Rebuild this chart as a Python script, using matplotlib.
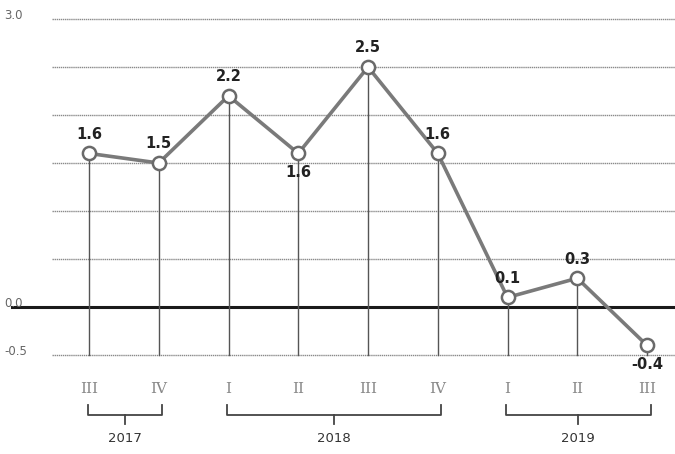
import numpy as np
import matplotlib
matplotlib.use("Agg")
import matplotlib.pyplot as plt

# quarterly values
quarters = ["III", "IV", "I", "II", "III", "IV", "I", "II", "III"]
values = [1.6, 1.5, 2.2, 1.6, 2.5, 1.6, 0.1, 0.3, -0.4]
label_pos = ["above", "above", "above", "below", "above", "above", "above", "above", "below"]
years = ["2017", "2018", "2019"]
year_span = [(0, 1), (2, 5), (6, 8)]
yticks = [3.0, 0.0, -0.5]
grid_levels = [3.0, 2.5, 2.0, 1.5, 1.0, 0.5, -0.5]

fig = plt.figure(figsize=(6.75, 4.54), dpi=100)
ax = fig.add_axes([0, 0, 1, 1])
ax.set_xlim(-1.276, 8.401)
ax.set_ylim(-1.531, 3.198)
ax.axis("off")

x = np.arange(len(values))

# dotted gray grid
for g in grid_levels:
    ax.plot([-0.53, 8.45], [g, g], color="#8a8a8a", lw=1.0, ls=(0, (1, 0.5)), zorder=1)
# zero line
ax.plot([-1.1, 8.45], [0, 0], color="#1a1a1a", lw=2.2, zorder=2)

# drop lines
for xi, v in zip(x, values):
    ax.plot([xi, xi], [v, -0.5], color="#555555", lw=1.0, zorder=2)

ax.plot(x, values, color="#7a7a7a", lw=2.6, zorder=3,
        marker="o", ms=9.5, mfc="white", mec="#6a6a6a", mew=1.8)

for xi, v, pos in zip(x, values, label_pos):
    dy = 0.2 if pos == "above" else -0.2
    ax.text(xi, v + dy, f"{v:.1f}", ha="center", va="center",
            fontsize=10.5, fontweight="bold", color="#222222", zorder=4)

# y tick labels
for t in yticks:
    ax.text(-1.21, t + 0.04, f"{t:.1f}", ha="left", va="center",
            fontsize=8.5, color="#666666")

# quarter labels
for xi, q in zip(x, quarters):
    ax.text(xi, -0.85, q, ha="center", va="center", fontsize=11,
            color="#888888", family="DejaVu Serif", fontweight="light")

# year braces
for (a, b), yr in zip(year_span, years):
    x0, x1 = a - 0.02, b + 0.05
    yb = -1.12
    ax.plot([x0, x0, x1, x1], [-1.02, yb, yb, -1.02], color="#444444", lw=1.3)
    xm = (x0 + x1) / 2
    ax.plot([xm, xm], [yb, -1.22], color="#444444", lw=1.3)
    ax.text(xm, -1.37, yr, ha="center", va="center", fontsize=9.5, color="#333333")

fig.savefig("out.png", dpi=100, facecolor="white")
